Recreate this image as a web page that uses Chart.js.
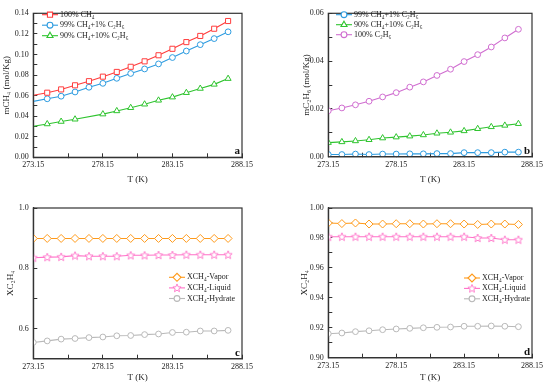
<!DOCTYPE html>
<html>
<head>
<meta charset="utf-8">
<script src="https://cdn.jsdelivr.net/npm/chart.js@4.4.0/dist/chart.umd.min.js"></script>
<style>
html,body{margin:0;padding:0;background:#fff;}
#wrap{position:relative;width:550px;height:387px;}
.panel{position:absolute;width:275px;}
</style>
</head>
<body>
<div id="wrap">
  <div class="panel" style="left:0;top:0;height:193px"><canvas id="chartA"></canvas></div>
  <div class="panel" style="left:275px;top:0;height:193px"><canvas id="chartB"></canvas></div>
  <div class="panel" style="left:0;top:193px;height:194px"><canvas id="chartC"></canvas></div>
  <div class="panel" style="left:275px;top:193px;height:194px"><canvas id="chartD"></canvas></div>
</div>
<script>
// temperatures (K)
const temps = [273.15,274.15,275.15,276.15,277.15,278.15,279.15,280.15,281.15,282.15,283.15,284.15,285.15,286.15,287.15];

// panel a: mCH4 (mol/Kg)
const aPure  = [0.0603,0.0628,0.0660,0.0700,0.0740,0.0784,0.0830,0.0880,0.0933,0.0992,0.1055,0.1120,0.1180,0.1250,0.1325];
const aMix1  = [0.0544,0.0569,0.0594,0.0635,0.0681,0.0719,0.0768,0.0815,0.0859,0.0908,0.0970,0.1033,0.1095,0.1154,0.1220];
const aMix10 = [0.0302,0.0324,0.0348,0.0370,null,0.0420,0.0451,0.0482,0.0516,0.0554,0.0585,0.0628,0.0669,0.0709,0.0765];

// panel b: mC2H6 (mol/Kg)
const bMix1  = [0.0009,0.0009,0.0011,0.0009,0.0011,0.0011,0.0012,0.0012,0.0013,0.0013,0.0017,0.0017,0.0017,0.0019,0.0019];
const bMix10 = [0.0059,0.0062,0.0066,0.0071,0.0078,0.0082,0.0086,0.0091,0.0098,0.0102,0.0108,0.0117,0.0125,0.0131,0.0138];
const bPure  = [0.0192,0.0204,0.0217,0.0232,0.0250,0.0268,0.0291,0.0313,0.0340,0.0366,0.0398,0.0427,0.0459,0.0497,0.0533];

// panel c: mole fractions, 99% CH4 + 1% C2H6
const cVapor   = [0.899,0.899,0.899,0.899,0.899,0.899,0.899,0.899,0.899,0.899,0.899,0.899,0.899,0.899,0.899];
const cLiquid  = [0.835,0.837,0.838,0.842,0.840,0.840,0.840,0.843,0.843,0.844,0.844,0.845,0.845,0.845,0.845];
const cHydrate = [0.554,0.559,0.565,0.567,0.570,0.572,0.576,0.577,0.580,0.582,0.587,0.588,0.592,0.592,0.594];

// panel d: mole fractions, 90% CH4 + 10% C2H6
const dVapor   = [0.9900,0.9896,0.9900,0.9893,0.9893,0.9895,0.9895,0.9893,0.9895,0.9895,0.9893,0.9890,0.9893,0.9893,0.9890];
const dLiquid  = [0.9808,0.9808,0.9808,0.9808,0.9808,0.9808,0.9808,0.9808,0.9808,0.9808,0.9808,0.9800,0.9800,0.9788,0.9788];
const dHydrate = [0.9160,0.9165,0.9174,0.9180,0.9187,0.9192,0.9196,0.9200,0.9203,0.9205,0.9210,0.9210,0.9212,0.9210,0.9207];

// tick values and labels
const xMajor = [273.15,278.15,283.15,288.15];
const xMinor = [275.65,280.65,285.65];
const xLabels = ['273.15','278.15','283.15','288.15'];
const aMajor = [0,0.02,0.04,0.06,0.08,0.10,0.12,0.14];
const aMinor = [0.01,0.03,0.05,0.07,0.09,0.11,0.13];
const aLabels = ['0.00','0.02','0.04','0.06','0.08','0.10','0.12','0.14'];
const bMajor = [0,0.02,0.04,0.06];
const bMinor = [0.01,0.03,0.05];
const bLabels = ['0.00','0.02','0.04','0.06'];
const cMajor = [0.6,0.8,1.0];
const cMinor = [0.7,0.9];
const cLabels = ['0.6','0.8','1.0'];
const dMajor = [0.90,0.92,0.94,0.96,0.98,1.00];
const dMinor = [0.91,0.93,0.95,0.97,0.99];
const dLabels = ['0.90','0.92','0.94','0.96','0.98','1.00'];

const FONT = "'Liberation Serif','Times New Roman',serif";
Chart.defaults.font.family = FONT;
Chart.defaults.color = '#222';

function starImage(color){
  const c = document.createElement('canvas');
  c.width = 10; c.height = 10;
  const g = c.getContext('2d');
  g.beginPath();
  for(let i=0;i<10;i++){
    const r = i%2 ? 1.9 : 4.3;
    const a = -Math.PI/2 + i*Math.PI/5;
    g.lineTo(5 + r*Math.cos(a), 5.3 + r*Math.sin(a));
  }
  g.closePath();
  g.fillStyle = '#fff'; g.fill();
  g.strokeStyle = color; g.lineWidth = 0.9; g.stroke();
  return c;
}

function series(label, values, color, style, radius, hideFirst){
  return {
    label: label,
    data: temps.map((t,i)=>({x:t, y:values[i]})),
    borderColor: color,
    borderWidth: 1.1,
    pointStyle: style,
    legendRadius: radius,
    pointRadius: hideFirst ? (c => c.dataIndex === 0 ? 0 : radius) : radius,
    pointBorderColor: color,
    pointBackgroundColor: '#fff',
    pointBorderWidth: 1,
    spanGaps: true,
    tension: 0
  };
}

function tickObjs(major, minor){
  return major.concat(minor).sort((p,q)=>p-q).map(v=>({value:v}));
}
function labelFor(v, major, labels){
  const i = major.findIndex(m => Math.abs(m - v) < 1e-6);
  return i >= 0 ? labels[i] : '';
}

const panelDecor = {
  id: 'panelDecor',
  afterDatasetsDraw(chart, args, o){
    const ctx = chart.ctx, ca = chart.chartArea;
    ctx.save();
    ctx.strokeStyle = '#333';
    ctx.lineWidth = 1.2;
    ctx.strokeRect(ca.left, ca.top, ca.right - ca.left, ca.bottom - ca.top);
    ctx.font = '8px ' + FONT;
    ctx.textBaseline = 'middle';
    ctx.textAlign = 'left';
    chart.data.datasets.forEach((ds,i)=>{
      const y = o.ly + i*o.gap;
      ctx.strokeStyle = ds.borderColor;
      ctx.lineWidth = ds.borderWidth;
      ctx.beginPath();
      ctx.moveTo(o.lx, y);
      ctx.lineTo(o.lx + 16, y);
      ctx.stroke();
      ctx.fillStyle = '#fff';
      Chart.helpers.drawPoint(ctx, {pointStyle: ds.pointStyle, radius: ds.legendRadius, borderWidth: 1, rotation: 0}, o.lx + 8, y);
      ctx.fillStyle = '#222';
      ctx.fillText(ds.label, o.lx + 18, y);
    });
    ctx.font = 'bold 11px ' + FONT;
    ctx.textAlign = 'right';
    ctx.textBaseline = 'alphabetic';
    ctx.fillStyle = '#111';
    ctx.fillText(o.letter, ca.right - 2, ca.bottom - 3);
    ctx.restore();
  }
};

function makeChart(id, datasets, p){
  return new Chart(document.getElementById(id), {
    type: 'line',
    data: {datasets: datasets},
    plugins: [panelDecor],
    options: {
      responsive: true,
      maintainAspectRatio: false,
      animation: false,
      layout: {padding: {top: p.pt, right: p.pr, left: 0, bottom: 0}},
      plugins: {
        legend: {display: false},
        tooltip: {enabled: false},
        panelDecor: {lx: p.lx, ly: p.ly, gap: p.gap, letter: p.letter}
      },
      scales: {
        x: {
          type: 'linear', min: 273.15, max: 288.15,
          afterBuildTicks: s => { s.ticks = tickObjs(xMajor, xMinor); },
          afterFit: s => { s.height = p.xh; },
          ticks: {autoSkip: false, maxRotation: 0, padding: 7, font: {size: 8}, color: '#222',
                  callback: v => labelFor(v, xMajor, xLabels)},
          grid: {drawOnChartArea: false, tickLength: -4, tickColor: '#333', tickWidth: 1},
          border: {color: '#333', width: 1.2},
          title: {display: true, text: 'T (K)', font: {size: 9}, color: '#222', padding: {top: 0, bottom: p.xtp}}
        },
        y: {
          type: 'linear', min: p.ymin, max: p.ymax,
          afterBuildTicks: s => { s.ticks = tickObjs(p.yMajor, p.yMinor); },
          afterFit: s => { s.width = p.yw; },
          ticks: {autoSkip: false, padding: 8.5, font: {size: 8}, color: '#222',
                  callback: v => labelFor(v, p.yMajor, p.yLabels)},
          grid: {drawOnChartArea: false, tickLength: -4, tickColor: '#333', tickWidth: 1},
          border: {color: '#333', width: 1.2},
          title: {display: true, text: p.ytitle, font: {size: 9}, color: '#222', padding: {top: p.ytp, bottom: 0}}
        }
      }
    }
  });
}

const RED = '#ff3d3d', BLUE = '#2e9ce0', GREEN = '#2fc42f', PURPLE = '#d06ed0';
const ORANGE = '#ff9a1a', PINK = '#ff70c8', GRAY = '#b9b9b9';

makeChart('chartA', [
  series('100% CH₄', aPure, RED, 'rect', 3.6, true),
  series('99% CH₄+1% C₂H₆', aMix1, BLUE, 'circle', 2.9, true),
  series('90% CH₄+10% C₂H₆', aMix10, GREEN, 'triangle', 3.5, true)
], {pt: 7.3, pr: 33, xh: 35.7, yw: 33.3, xtp: 7.6, ytp: 1.6, ymin: 0, ymax: 0.14,
    yMajor: aMajor, yMinor: aMinor, yLabels: aLabels, ytitle: 'mCH₄ (mol/Kg)',
    lx: 42, ly: 14.7, gap: 10.5, letter: 'a'});

makeChart('chartB', [
  series('99% CH₄+1% C₂H₆', bMix1, BLUE, 'circle', 2.9, false),
  series('90% CH₄+10% C₂H₆', bMix10, GREEN, 'triangle', 3.5, false),
  series('100% C₂H₆', bPure, PURPLE, 'circle', 2.9, false)
], {pt: 7.3, pr: 13.3, xh: 36.3, yw: 53.3, xtp: 7.6, ytp: 26, ymin: 0, ymax: 0.06,
    yMajor: bMajor, yMinor: bMinor, yLabels: bLabels, ytitle: 'mC₂H₆ (mol/Kg)',
    lx: 61, ly: 14.7, gap: 10, letter: 'b'});

makeChart('chartC', [
  series('XCH₄-Vapor', cVapor, ORANGE, 'rectRot', 4, false),
  series('XCH₄-Liquid', cLiquid, PINK, starImage(PINK), 3.5, false),
  series('XCH₄-Hydrate', cHydrate, GRAY, 'circle', 2.9, false)
], {pt: 15, pr: 33, xh: 28.3, yw: 33.3, xtp: 3.6, ytp: 5, ymin: 0.5, ymax: 1.0,
    yMajor: cMajor, yMinor: cMinor, yLabels: cLabels, ytitle: 'XC₂H₄',
    lx: 169, ly: 84.3, gap: 10.6, letter: 'c'});

makeChart('chartD', [
  series('XCH₄-Vapor', dVapor, ORANGE, 'rectRot', 4, false),
  series('XCH₄-Liquid', dLiquid, PINK, starImage(PINK), 3.5, false),
  series('XCH₄-Hydrate', dHydrate, GRAY, 'circle', 2.9, false)
], {pt: 15, pr: 13.3, xh: 29.3, yw: 53.3, xtp: 3.6, ytp: 24.6, ymin: 0.9, ymax: 1.0,
    yMajor: dMajor, yMinor: dMinor, yLabels: dLabels, ytitle: 'XC₂H₄',
    lx: 189, ly: 85, gap: 10.4, letter: 'd'});
</script>
</body>
</html>
